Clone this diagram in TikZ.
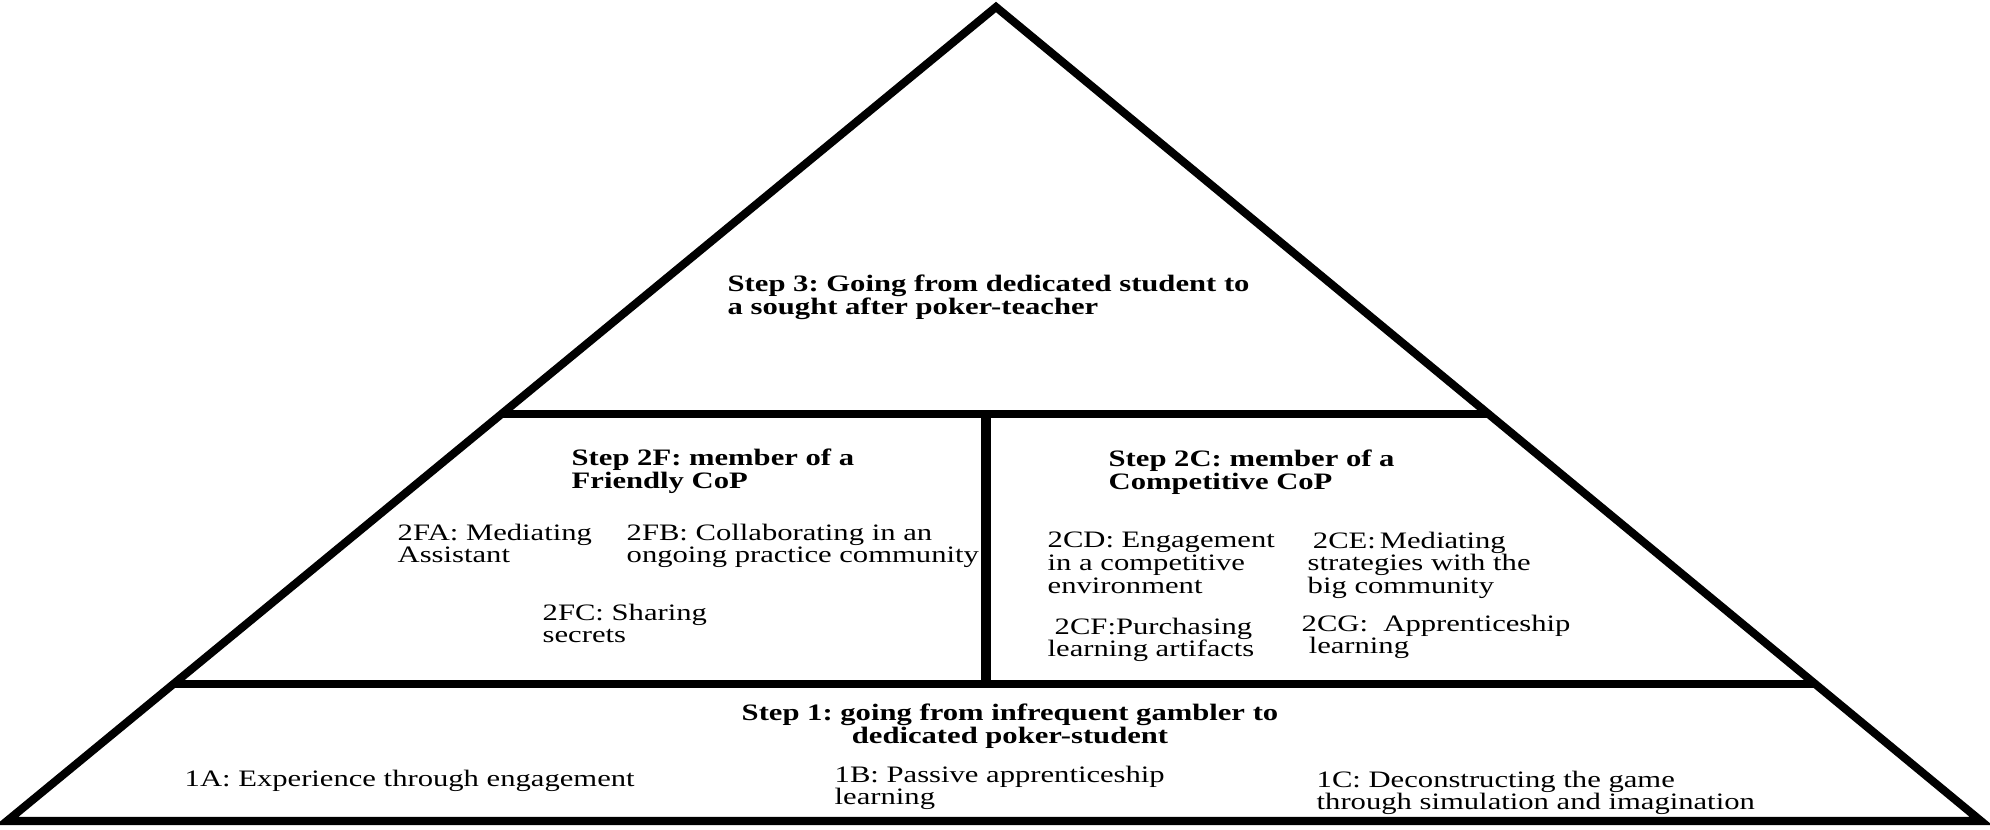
\documentclass[tikz,border=0pt]{standalone}
\usepackage{fontspec}
\setmainfont[FakeStretch=1.3]{Liberation Serif}
\usetikzlibrary{calc}

\begin{document}
\frenchspacing
\begin{tikzpicture}[
  x=0.01cm, y=-0.01cm,
  font=\fontsize{6.7}{6.5}\selectfont,
  edge/.style={line width=2.3pt},
  divider/.style={line width=2.8pt},
  lbl/.style={anchor=north west, align=left, inner sep=0pt},
  head/.style={lbl, font=\fontsize{6.7}{6.5}\selectfont\bfseries}
]
\useasboundingbox (0,0) rectangle (1990,829);

% --- pyramid outline and tier borders ---
\coordinate (top) at (996,7);
\coordinate (bl) at (7,821);
\coordinate (br) at (1981,821);
\coordinate (mid) at (986,0);
\coordinate (t2l) at ($(bl)!0.5!(top)$);
\coordinate (t2r) at ($(br)!0.5!(top)$);
\coordinate (t1l) at ($(bl)!0.168!(top)$);
\coordinate (t1r) at ($(br)!0.168!(top)$);

\draw[edge] (top) -- (bl) -- (br) -- cycle;
\draw[edge] (t2l) -- (t2r);
\draw[edge] (t1l) -- (t1r);
\draw[divider] (t2l -| mid) -- (t1l -| mid);

% --- step 3 ---
\node[head] (s3) at (727,274) {Step 3: Going from dedicated student to\\a sought after poker-teacher};

% --- step 2F ---
\node[head] (s2f) at (571,448) {Step 2F: member of a\\Friendly CoP};
\node[lbl] (s2fa) at (397,523) {2FA: Mediating\\Assistant};
\node[lbl] (s2fb) at (626,523) {2FB: Collaborating in an\\ongoing practice community};
\node[lbl] (s2fc) at (542,603) {2FC: Sharing\\secrets};

% --- step 2C ---
\node[head] (s2c) at (1108,449) {Step 2C: member of a\\Competitive CoP};
\node[lbl] (s2cd) at (1047,531) {2CD: Engagement\\in a competitive\\environment};
\node[lbl] (s2ce) at (1307,531) {\hspace{1.5pt}2CE:\,Mediating\\strategies with the\\big community};
\node[lbl] (s2cf) at (1047,617) {\hspace{2pt}2CF:Purchasing\\learning artifacts};
\node[lbl] (s2cg) at (1301,614) {2CG:\ \ Apprenticeship\\\hspace{2pt}learning};

% --- step 1 ---
\node[head, anchor=north, align=center] (s1) at (1010,703)
  {Step 1: going from infrequent gambler to\\dedicated poker-student};
\node[lbl] (s1a) at (184,769) {1A: Experience through engagement};
\node[lbl] (s1b) at (834,765) {1B: Passive apprenticeship\\learning};
\node[lbl] (s1c) at (1316,770) {1C: Deconstructing the game\\through simulation and imagination};
\end{tikzpicture}
\end{document}
